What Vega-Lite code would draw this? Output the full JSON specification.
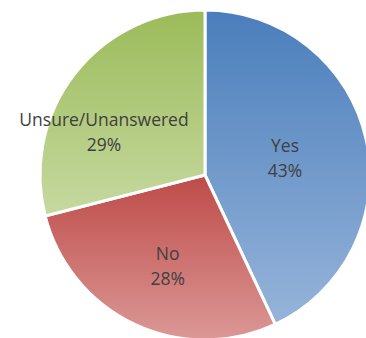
{
  "$schema": "https://vega.github.io/schema/vega-lite/v6.json",
  "width": 410,
  "height": 350,
  "padding": 0,
  "autosize": "none",
  "background": "white",
  "view": {"stroke": null},
  "data": {
    "values": [
      {"category": "Yes", "value": 43, "label": "Yes\n43%"},
      {"category": "No", "value": 28, "label": "No\n28%"},
      {"category": "Unsure/Unanswered", "value": 29, "label": "Unsure/Unanswered\n29%"}
    ]
  },
  "encoding": {
    "theta": {"field": "value", "type": "quantitative", "stack": true},
    "order": {"field": "ord", "type": "quantitative"}
  },
  "transform": [
    {"window": [{"op": "row_number", "as": "ord"}]}
  ],
  "layer": [
    {
      "mark": {"type": "arc", "outerRadius": 165, "stroke": "white", "strokeWidth": 3},
      "encoding": {
        "color": {
          "condition": [
            {"test": "datum.category === 'Yes'", "value": {"gradient": "linear", "x1": 0, "y1": 0, "x2": 0, "y2": 1, "stops": [{"offset": 0, "color": "#4A7EBB"}, {"offset": 1, "color": "#96B4DA"}]}},
            {"test": "datum.category === 'No'", "value": {"gradient": "linear", "x1": 0, "y1": 0, "x2": 0, "y2": 1, "stops": [{"offset": 0, "color": "#BE4B48"}, {"offset": 1, "color": "#DB9896"}]}}
          ],
          "value": {"gradient": "linear", "x1": 0, "y1": 0, "x2": 0, "y2": 1, "stops": [{"offset": 0, "color": "#9BBB59"}, {"offset": 1, "color": "#C6D9A0"}]}
        }
      }
    },
    {
      "mark": {"type": "text", "radius": 82, "dy": -10, "font": "Open Sans", "fontSize": 17.5, "lineHeight": 25, "lineBreak": "\n", "color": "#404040", "align": "center", "baseline": "middle"},
      "encoding": {
        "text": {"condition": {"test": "datum.category === 'Yes'", "field": "label"}, "value": ""}
      }
    },
    {
      "mark": {"type": "text", "radius": 97, "dx": 4, "dy": -8, "font": "Open Sans", "fontSize": 17.5, "lineHeight": 25, "lineBreak": "\n", "color": "#404040", "align": "center", "baseline": "middle"},
      "encoding": {
        "text": {"condition": {"test": "datum.category === 'No'", "field": "label"}, "value": ""}
      }
    },
    {
      "mark": {"type": "text", "radius": 100, "dx": -22, "dy": 7, "font": "Open Sans", "fontSize": 17.5, "lineHeight": 25, "lineBreak": "\n", "color": "#404040", "align": "center", "baseline": "middle"},
      "encoding": {
        "text": {"condition": {"test": "datum.category === 'Unsure/Unanswered'", "field": "label"}, "value": ""}
      }
    }
  ]
}
